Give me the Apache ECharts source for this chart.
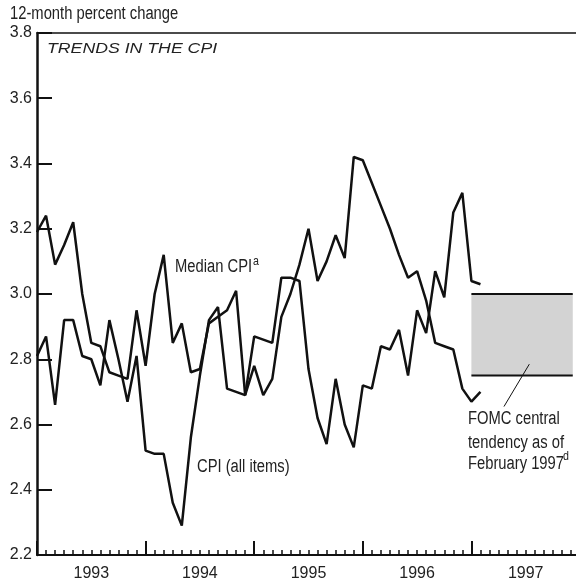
<!DOCTYPE html>
<html>
<head>
<meta charset="utf-8">
<script src="https://cdn.jsdelivr.net/npm/echarts@6/dist/echarts.min.js"></script>
<style>
  html, body { margin: 0; padding: 0; background: #fff; }
  #chart { width: 576px; height: 583px; }
</style>
</head>
<body>
<div id="chart"></div>
<script>
// monthly points, index 0 = Jan 1993
var years = ['1993', '1994', '1995', '1996', '1997'];

var medianCpi = [
  3.19, 3.24, 3.09, 3.15, 3.22, 3.00, 2.85, 2.84, 2.76, 2.75, 2.74, 2.95,
  2.78, 3.00, 3.12, 2.85, 2.91, 2.76, 2.77, 2.91, 2.93, 2.95, 3.01, 2.69,
  2.78, 2.69, 2.74, 2.93, 3.00, 3.09, 3.20, 3.04, 3.10, 3.18, 3.11, 3.42,
  3.41, 3.34, 3.27, 3.20, 3.12, 3.05, 3.07, 2.98, 2.85, 2.84, 2.83, 2.71,
  2.67, 2.70
];

var cpiAll = [
  2.81, 2.87, 2.66, 2.92, 2.92, 2.81, 2.80, 2.72, 2.92, 2.80, 2.67, 2.81,
  2.52, 2.51, 2.51, 2.36, 2.29, 2.56, 2.75, 2.92, 2.96, 2.71, 2.70, 2.69,
  2.87, 2.86, 2.85, 3.05, 3.05, 3.04, 2.77, 2.62, 2.54, 2.74, 2.60, 2.53,
  2.72, 2.71, 2.84, 2.83, 2.89, 2.75, 2.95, 2.88, 3.07, 2.99, 3.25, 3.31,
  3.04, 3.03
];

// FOMC central tendency band (feb 1997)
var fomcRange = [2.75, 3.0];
var fomcMonths = [48, 59.2];

var sans = '"Liberation Sans", Arial, sans-serif';
var ink = '#111';
var txt = '#222';

function toPoints(arr) {
  return arr.map(function (v, i) { return [i, v]; });
}

// narrow look: regular sans squeezed horizontally
function label(str, x, y, size) {
  return {
    type: 'text', x: x, y: y, scaleX: 0.82,
    style: { text: str, font: size + 'px ' + sans, fill: txt, verticalAlign: 'middle' }
  };
}

var chart = echarts.init(document.getElementById('chart'));

var option = {
  animation: false,
  backgroundColor: '#fff',
  grid: { left: 37, top: 33, width: 543, height: 522, outerBoundsMode: 'none' },
  xAxis: [
    {
      type: 'value', min: 0, max: 60, interval: 12, position: 'bottom',
      axisLine: { lineStyle: { color: ink, width: 2 } },
      axisTick: { inside: true, length: 14, lineStyle: { color: ink, width: 2 } },
      minorTick: { show: true, splitNumber: 12, length: 5, lineStyle: { color: ink, width: 1.5 } },
      axisLabel: { show: false },
      splitLine: { show: false }
    },
    {
      type: 'category', data: years, position: 'bottom', boundaryGap: true,
      axisLine: { show: false }, axisTick: { show: false },
      axisLabel: { fontSize: 16, fontFamily: sans, color: txt, margin: 11 }
    },
    {
      type: 'value', min: 0, max: 1, position: 'top',
      axisLine: { show: true, lineStyle: { color: ink, width: 1.5 } },
      axisTick: { show: false }, axisLabel: { show: false }, splitLine: { show: false }
    }
  ],
  yAxis: {
    type: 'value', min: 2.2, max: 3.8, interval: 0.2,
    axisLine: { show: true, lineStyle: { color: ink, width: 2.5 } },
    axisTick: { show: true, inside: true, length: 15, lineStyle: { color: ink, width: 2 } },
    axisLabel: {
      fontSize: 16, fontFamily: sans, color: txt, margin: 5,
      formatter: function (v) { return v.toFixed(1); }
    },
    splitLine: { show: false }
  },
  series: [
    {
      name: 'FOMC top', type: 'line', symbol: 'none',
      data: [[fomcMonths[0], fomcRange[1]], [fomcMonths[1], fomcRange[1]]],
      lineStyle: { color: ink, width: 2 },
      markArea: {
        silent: true,
        itemStyle: { color: '#d3d3d3' },
        data: [[{ coord: [fomcMonths[0], fomcRange[0]] }, { coord: [fomcMonths[1], fomcRange[1]] }]]
      },
      markLine: {
        silent: true, symbol: 'none', label: { show: false },
        lineStyle: { color: ink, width: 1, type: 'solid' },
        data: [[{ coord: [51.6, 2.655] }, { coord: [54.4, 2.785] }]]
      }
    },
    {
      name: 'FOMC bottom', type: 'line', symbol: 'none',
      data: [[fomcMonths[0], fomcRange[0]], [fomcMonths[1], fomcRange[0]]],
      lineStyle: { color: ink, width: 2 }
    },
    {
      name: 'Median CPI', type: 'line', symbol: 'none', z: 5,
      data: toPoints(medianCpi),
      lineStyle: { color: ink, width: 2.5 }
    },
    {
      name: 'CPI (all items)', type: 'line', symbol: 'none', z: 5,
      data: toPoints(cpiAll),
      lineStyle: { color: ink, width: 2.5 }
    }
  ],
  graphic: [
    label('12-month percent change', 10, 14, 18),
    {
      type: 'text', x: 47, y: 49, scaleX: 1.18,
      style: { text: 'TRENDS IN THE CPI', font: 'italic 15px ' + sans, fill: txt, verticalAlign: 'middle' }
    },
    label('Median CPI', 175, 267, 18),
    label('a', 253, 261, 13),
    label('CPI (all items)', 197, 467, 18),
    label('FOMC central', 468, 419, 18),
    label('tendency as of', 468, 443, 18),
    label('February 1997', 468, 464, 18),
    label('d', 563, 456, 13)
  ]
};

chart.setOption(option);
</script>
</body>
</html>
